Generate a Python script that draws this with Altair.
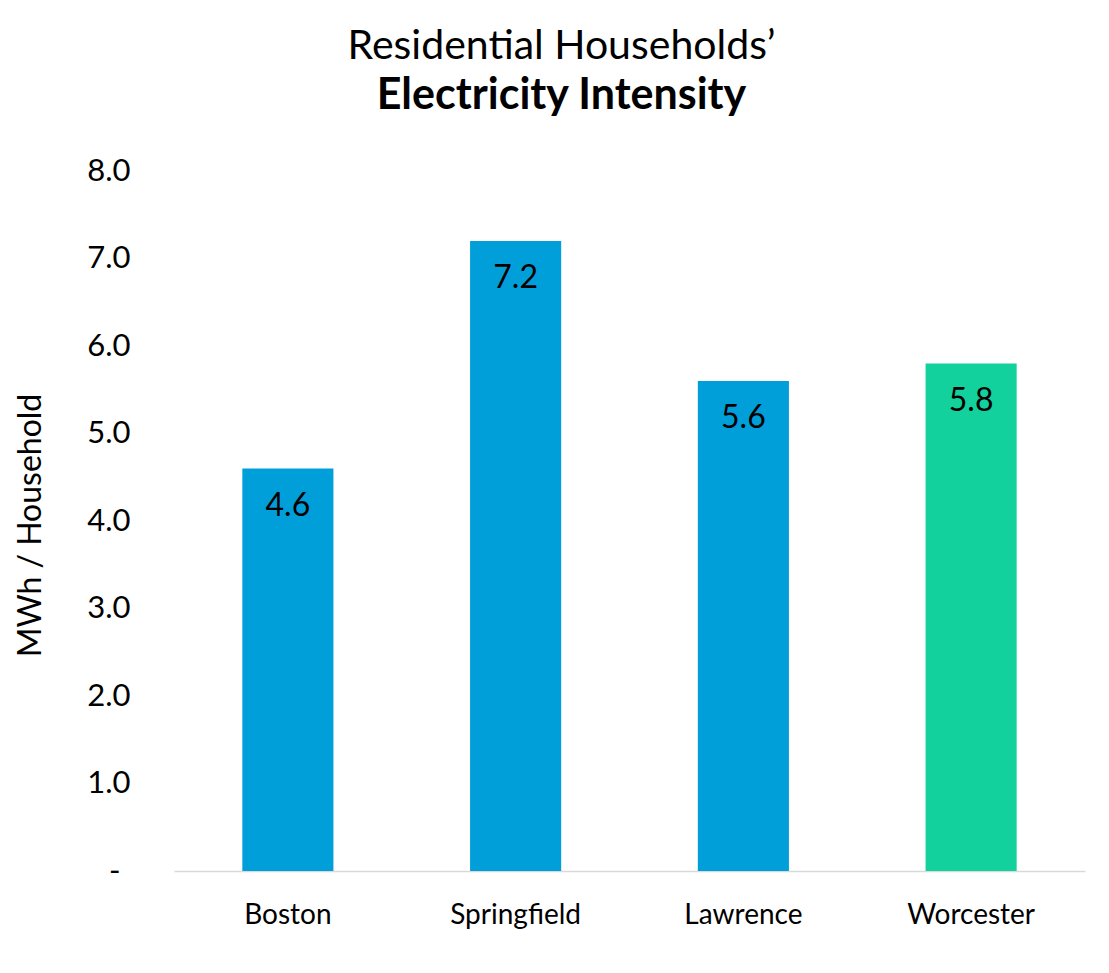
import altair as alt
import pandas as pd

cities = ["Boston", "Springfield", "Lawrence", "Worcester"]
values = [4.6, 7.2, 5.6, 5.8]
colors = ["#009FDA", "#009FDA", "#009FDA", "#12D19C"]

df = pd.DataFrame({"city": cities, "value": values, "color": colors})

FONT = "Lato"

x = alt.X(
    "city:N",
    sort=cities,
    scale=alt.Scale(paddingInner=0.6, paddingOuter=0.3),
    axis=alt.Axis(
        title=None,
        labelAngle=0,
        ticks=False,
        domain=True,
        domainColor="#D9D9D9",
        domainWidth=1.5,
        labelFont=FONT,
        labelFontSize=28,
        labelColor="#000000",
        labelPadding=30,
    ),
)

y = alt.Y(
    "value:Q",
    scale=alt.Scale(domain=[0, 8], nice=False),
    axis=alt.Axis(
        title="MWh / Household",
        values=[0, 1, 2, 3, 4, 5, 6, 7, 8],
        labelExpr="datum.value == 0 ? '-' : format(datum.value, '.1f')",
        grid=False,
        ticks=False,
        domain=False,
        labelFont=FONT,
        labelFontSize=31,
        labelColor="#000000",
        labelPadding={"condition": {"test": "datum.value == 0", "value": 54}, "value": 44},
        titleFont=FONT,
        titleFontSize=32,
        titleFontWeight="normal",
        titleColor="#000000",
        titleX=-144,
        titleY=354,
        titleBaseline="middle",
    ),
)

bars = alt.Chart(df).mark_bar().encode(
    x=x,
    y=y,
    color=alt.Color("color:N", scale=None, legend=None),
)

labels = alt.Chart(df).mark_text(
    baseline="middle", dy=37, font=FONT, fontSize=32, color="#000000"
).encode(
    x=alt.X("city:N", sort=cities),
    y=alt.Y("value:Q"),
    text=alt.Text("value:Q", format=".1f"),
)

chart = (
    alt.layer(bars, labels)
    .properties(
        width=911,
        height=700,
        view=alt.ViewBackground(stroke="transparent"),
        autosize=alt.AutoSizeParams(type="none"),
        padding={"left": 166, "top": 163, "right": 12, "bottom": 88},
        title=alt.TitleParams(
            text="Residential Households’",
            subtitle="Electricity Intensity",
            font=FONT,
            fontSize=41,
            fontWeight="normal",
            color="#000000",
            subtitleFont=FONT,
            subtitleFontSize=43,
            subtitleFontWeight="bold",
            subtitleColor="#000000",
            subtitlePadding=7,
            anchor="middle",
            dx=-68,
            offset=36,
        ),
    )
    .configure_view(stroke="transparent")
    .configure(background="#FFFFFF")
)

chart.save("out.html", embed_options={"renderer": "svg", "actions": False})
